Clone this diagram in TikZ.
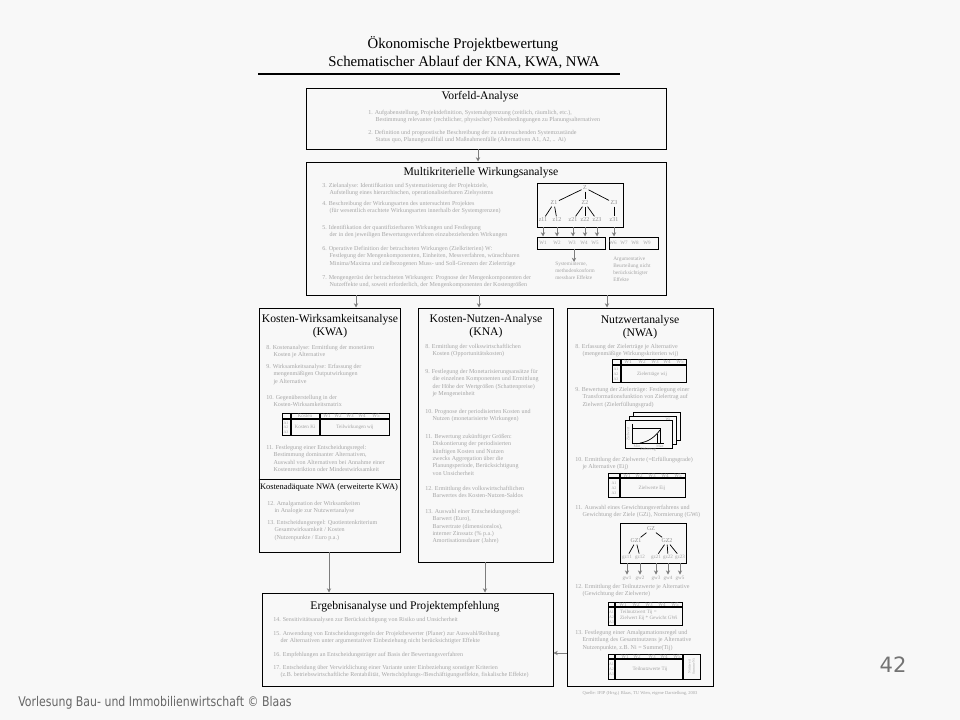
\documentclass[tikz,border=0pt]{standalone}
\usepackage{fontspec}
\setmainfont{Liberation Serif}
\newfontfamily\slidefont{DejaVu Sans}
\usepackage{graphicx}
\usetikzlibrary{arrows.meta,positioning,fit}
\definecolor{slidebg}{RGB}{248,248,248}
\definecolor{faint}{RGB}{165,165,165}
\definecolor{arrgray}{RGB}{125,125,125}
\newcommand\ind{\hspace*{1.2em}}

\tikzset{
  box/.style={draw=black,line width=0.7pt,inner sep=0pt},
  hd/.style={font=\fontsize{8.3}{9.6}\selectfont,align=center,inner sep=0pt},
  txt/.style={font=\fontsize{4.3}{5.2}\selectfont,text=faint,align=left,anchor=north west,inner sep=0pt},
  tiny/.style={font=\fontsize{3.6}{4.3}\selectfont,text=faint,inner sep=0.6pt},
  knot/.style={font=\fontsize{4.2}{5}\selectfont,text=black!45,inner sep=1pt},
  arr/.style={draw=arrgray,line width=0.6pt,-{Stealth[length=3pt,width=3pt]}},
  tl/.style={line width=0.5pt},
  tk/.style={line width=0.9pt}
}

\begin{document}
\begin{tikzpicture}[x=0.025cm,y=-0.025cm]
\fill[slidebg] (0,0) rectangle (960,720);
\useasboundingbox (0,0) rectangle (960,720);

\node[font=\fontsize{10.5}{12}\selectfont] (title1) at (463,44) {Ökonomische Projektbewertung};
\node[font=\fontsize{10.5}{12}\selectfont] (title2) at (464,62) {Schematischer Ablauf der KNA, KWA, NWA};
\draw[line width=0.8pt] (258,74) -- (620,74);

% Vorfeld
\node[box,fit={(306,88) (666,149)}] (vorfeld) {};
\node[hd] (vorfeldhd) at (480,97) {Vorfeld-Analyse};
\node[txt] (v1) at (368,110) {1. Aufgabenstellung, Projektdefinition, Systemabgrenzung (zeitlich, räumlich, etc.),\\\ind Bestimmung relevanter (rechtlicher, physischer) Nebenbedingungen zu Planungsalternativen};
\node[txt] (v2) at (368,130) {2. Definition und prognostische Beschreibung der zu untersuchenden Systemzustände\\\ind Status quo, Planungsnullfall und Maßnahmenfälle (Alternativen A1, A2, .. Ai)};

% Multikriterielle Wirkungsanalyse
\node[box,fit={(306,162) (666,295)}] (multi) {};
\node[hd] (multihd) at (481,173) {Multikriterielle Wirkungsanalyse};
\node[txt] (m3) at (322,183) {3. Zielanalyse: Identifikation und Systematisierung der Projektziele,\\\ind Aufstellung eines hierarchischen, operationalisierbaren Zielsystems};
\node[txt] (m4) at (322,201) {4. Beschreibung der Wirkungsarten des untersuchten Projektes\\\ind (für wesentlich erachtete Wirkungsarten innerhalb der Systemgrenzen)};
\node[txt] (m5) at (322,225) {5. Identifikation der quantifizierbaren Wirkungen und Festlegung\\\ind der in den jeweiligen Bewertungsverfahren einzubeziehenden Wirkungen};
\node[txt] (m6) at (322,246) {6. Operative Definition der betrachteten Wirkungen (Zielkriterien) W:\\\ind Festlegung der Mengenkomponenten, Einheiten, Messverfahren, wünschbaren\\\ind Minima/Maxima und zielbezogenen Muss- und Soll-Grenzen der Zielerträge};
\node[txt] (m7) at (322,275) {7. Mengengerüst der betrachteten Wirkungen: Prognose der Mengenkomponenten der\\\ind Nutzeffekte und, soweit erforderlich, der Mengenkomponenten der Kostengrößen};

\node[box,fit={(537,183) (623,227)}] (ztree) {};
\node[knot] (z) at (585,188) {Z};
\foreach \n/\x in {Z1/554,Z2/585,Z3/614} \node[knot] (\n) at (\x,203) {\n};
\foreach \n/\x in {z11/543,z12/557,z21/573,z22/585,z23/597,z31/614} \node[knot] (\n) at (\x,220) {\n};
\foreach \a/\b in {z/Z1,z/Z2,z/Z3,Z1/z11,Z1/z12,Z2/z21,Z2/z22,Z2/z23,Z3/z31} \draw[tl] (\a) -- (\b);
\node[box,fit={(537,237) (605,249)}] (wa) {};
\node[box,fit={(609,237) (658,249)}] (wb) {};
\foreach \n/\x in {W1/543,W2/557,W3/572,W4/584,W5/595,W6/613,W7/624,W8/635,W9/647} \node[tiny] (\n) at (\x,243) {\n};
\foreach \n in {z11,z12,z21,z22,z23} \draw[arr] (\n |- ztree.south) -- (\n |- wa.north);
\draw[arr] (z31 |- ztree.south) -- (z31 |- wb.north);
\node[txt,font=\fontsize{3.8}{5}\selectfont] (intern) at (555,262) {Systeminterne,\\methodenkonform\\messbare Effekte};
\coordinate (w3x) at (574,0);
\draw[arr] (wa.south -| w3x) -- (intern.north -| w3x);
\node[txt,font=\fontsize{3.8}{5}\selectfont] (argum) at (613,257) {Argumentative\\Beurteilung nicht\\berücksichtigter\\Effekte};

% KWA
\node[box,fit={(259,308) (400,552)}] (kwa) {};
\node[hd] (kwahd) at (330,326) {Kosten-Wirksamkeitsanalyse\\(KWA)};
\node[txt] (k8) at (266,345) {8. Kostenanalyse: Ermittlung der monetären\\\ind Kosten je Alternative};
\node[txt] (k9) at (266,364) {9. Wirksamkeitsanalyse: Erfassung der\\\ind mengenmäßigen Outputwirkungen\\\ind je Alternative};
\node[txt] (k10) at (266,395) {10. Gegenüberstellung in der\\\ind Kosten-Wirksamkeitsmatrix};
\draw[tl] (282,413) rectangle (389,435);
\draw[tk] (282,419) -- (389,419);
\draw[tk] (291,413) -- (291,435);
\draw[tk] (320,413) -- (320,435);
\node[tiny] (kkost) at (305,416) {Kosten};
\foreach \n/\x in {W1/327,W2/338,W3/350,W4/362,W5/376} \node[tiny] at (\x,416) {\n};
\foreach \n/\y in {A1/423,A2/427.5,A3/432} \node[tiny,font=\fontsize{2.8}{3}\selectfont] at (286,\y) {\n};
\node[tiny] (kki) at (305,427) {Kosten Ki};
\node[tiny] (kwij) at (355,427) {Teilwirkungen wij};
\node[txt] (k11) at (266,445) {11. Festlegung einer Entscheidungsregel:\\\ind Bestimmung dominanter Alternativen,\\\ind Auswahl von Alternativen bei Annahme einer\\\ind Kostenrestriktion oder Mindestwirksamkeit};
\draw[line width=0.7pt] (kwa.west |- 0,479) -- (kwa.east |- 0,479);
\node[font=\fontsize{6}{7}\selectfont,inner sep=0pt] (kwanwa) at (329,487) {Kostenadäquate NWA (erweiterte KWA)};
\node[txt] (k12) at (267,501) {12. Amalgamation der Wirksamkeiten\\\ind in Analogie zur Nutzwertanalyse};
\node[txt] (k13) at (267,520) {13. Entscheidungsregel: Quotientenkriterium\\\ind Gesamtwirksamkeit / Kosten\\\ind (Nutzenpunkte / Euro p.a.)};

% KNA
\node[box,fit={(418,308) (553,562)}] (kna) {};
\node[hd] (knahd) at (486,326) {Kosten-Nutzen-Analyse\\(KNA)};
\node[txt] (n8) at (425,344) {8. Ermittlung der volkswirtschaftlichen\\\ind Kosten (Opportunitätskosten)};
\node[txt] (n9) at (425,369) {9. Festlegung der Monetarisierungsansätze für\\\ind die einzelnen Komponenten und Ermittlung\\\ind der Höhe der Wertgrößen (Schattenpreise)\\\ind je Mengeneinheit};
\node[txt] (n10) at (425,409) {10. Prognose der periodisierten Kosten und\\\ind Nutzen (monetarisierte Wirkungen)};
\node[txt] (n11) at (425,434) {11. Bewertung zukünftiger Größen:\\\ind Diskontierung der periodisierten\\\ind künftigen Kosten und Nutzen\\\ind zwecks Aggregation über die\\\ind Planungsperiode, Berücksichtigung\\\ind von Unsicherheit};
\node[txt] (n12) at (425,486) {12. Ermittlung des volkswirtschaftlichen\\\ind Barwertes des Kosten-Nutzen-Saldos};
\node[txt] (n13) at (425,509) {13. Auswahl einer Entscheidungsregel:\\\ind Barwert (Euro),\\\ind Barwertrate (dimensionslos),\\\ind interner Zinssatz (\% p.a.)\\\ind Amortisationsdauer (Jahre)};

% NWA
\node[box,fit={(567,308) (713,686)}] (nwa) {};
\node[hd] (nwahd) at (640,327) {Nutzwertanalyse\\(NWA)};
\node[txt] (w8) at (575,344) {8. Erfassung der Zielerträge je Alternative\\\ind (mengenmäßige Wirkungskriterien wij)};
\draw[tl] (612,359) rectangle (686,382);
\draw[tk] (612,365) -- (686,365);
\draw[tk] (621,359) -- (621,382);
\foreach \n/\x in {W1/628,W2/642,W3/655,W4/667,W5/680} \node[tiny] at (\x,362) {\n};
\foreach \n/\y in {A1/369,A2/374,A3/379} \node[tiny,font=\fontsize{2.8}{3}\selectfont] at (616,\y) {\n};
\node[tiny] (wwij) at (652,374) {Zielerträge wij};
\node[txt] (w9) at (575,387) {9. Bewertung der Zielerträge: Festlegung einer\\\ind Transformationsfunktion von Zielertrag auf\\\ind Zielwert (Zielerfüllungsgrad)};
\foreach \d in {8,4,0} \filldraw[fill=slidebg,draw=black,line width=0.5pt] (625+\d,420-\d) rectangle (672+\d,448-\d);
\draw[tl] (632,424) -- (632,443) -- (664,443);
\draw[tl] (632,428) -- (660,428) -- (660,443);
\draw[tl] (640,443) .. controls (648,442) and (655,437) .. (660,430);
\draw[tl] (657,434) -- (657,443);
\node[tiny,rotate=90,font=\fontsize{2.8}{3}\selectfont] (zw) at (628,434) {Zielwert};
\node[tiny,font=\fontsize{2.8}{3}\selectfont] (zmin) at (637,446) {Min};
\node[tiny,font=\fontsize{2.8}{3}\selectfont] (zmax) at (660,446) {Max};
\node[tiny,font=\fontsize{2.8}{3}\selectfont] (zert) at (648,450) {Zielertrag};
\node[tiny,font=\fontsize{2.8}{3}\selectfont] (zwi) at (668,419) {Wi};
\node[txt] (w10) at (575,457) {10. Ermittlung der Zielwerte (=Erfüllungsgrade)\\\ind je Alternative (Eij)};
\draw[tl] (608,473) rectangle (685,497);
\draw[tk] (608,478) -- (685,478);
\draw[tk] (620,473) -- (620,497);
\foreach \n/\x in {W1/627,W2/639,W3/652,W4/665,W5/678} \node[tiny] at (\x,475.5) {\n};
\foreach \n/\y in {A1/483,A2/488,A3/493} \node[tiny,font=\fontsize{2.8}{3}\selectfont] at (614,\y) {\n};
\node[tiny] (weij) at (652,488) {Zielwerte Eij};
\node[txt] (w11) at (575,505) {11. Auswahl eines Gewichtungsverfahrens und\\\ind Gewichtung der Ziele (GZi), Normierung (GWi)};
\node[box,fit={(620,523) (686,563)}] (gtree) {};
\node[knot] (gz) at (651,529) {GZ};
\node[knot] (gz1) at (636,541) {GZ1};
\node[knot] (gz2) at (667,541) {GZ2};
\foreach \n/\x in {gz11/627,gz12/640,gz21/656,gz22/668,gz23/680} \node[tiny] (\n) at (\x,557) {\n};
\foreach \a/\b in {gz/gz1,gz/gz2,gz1/gz11,gz1/gz12,gz2/gz21,gz2/gz22,gz2/gz23} \draw[tl] (\a) -- (\b);
\foreach \n/\g/\x in {gz11/gw1/627,gz12/gw2/640,gz21/gw3/656,gz22/gw4/668,gz23/gw5/680} {
  \node[tiny] (\g) at (\x,578) {\g};
  \draw[arr] (\n |- gtree.south) -- (\g);
}
\node[txt] (w12) at (575,584) {12. Ermittlung der Teilnutzwerte je Alternative\\\ind (Gewichtung der Zielwerte)};
\draw[tl] (608,602) rectangle (682,625);
\draw[tk] (608,607) -- (682,607);
\draw[tk] (615,602) -- (615,625);
\foreach \n/\x in {W1/623,W2/636,W3/649,W4/662,W5/675} \node[tiny] at (\x,604.5) {\n};
\foreach \n/\y in {A1/612,A2/617,A3/622} \node[tiny,font=\fontsize{2.8}{3}\selectfont] at (611.5,\y) {\n};
\node[tiny,anchor=north west,align=left] (wtij) at (619,609) {Teilnutzwert Tij =\\Zielwert Eij * Gewicht GWi};
\node[txt] (w13) at (575,630) {13. Festlegung einer Amalgamationsregel und\\\ind Ermittlung des Gesamtnutzens je Alternative\\\ind Nutzenpunkte, z.B. Ni = Summe(Tij)};
\draw[tl] (608,654) rectangle (700,679);
\draw[tk] (608,659) -- (683,659);
\draw[tk] (615,654) -- (615,679);
\draw[tk] (683,654) -- (683,679);
\foreach \n/\x in {W1/625,W2/637,W3/652,W4/664,W5/677} \node[tiny] at (\x,656.5) {\n};
\foreach \n/\y in {A1/664,A2/669,A3/674} \node[tiny,font=\fontsize{2.8}{3}\selectfont] at (611.5,\y) {\n};
\node[tiny] (wteil) at (650,669) {Teilnutzwerte Tij};
\node[tiny,rotate=90,align=center,font=\fontsize{2.6}{3}\selectfont] (wni) at (691.5,666.5) {Nutzwert\\Summe Ni};
\node[tiny,font=\fontsize{3.2}{4}\selectfont] (quelle) at (640,693) {Quelle: IFIP (Hrsg.) Blaas, TU Wien, eigene Darstellung, 2003};

% Ergebnis
\node[box,fit={(262,593) (553,686)}] (erg) {};
\node[hd] (erghd) at (405,607) {Ergebnisanalyse und Projektempfehlung};
\node[txt] (e14) at (273,617) {14. Sensitivitätsanalysen zur Berücksichtigung von Risiko und Unsicherheit};
\node[txt] (e15) at (273,631) {15. Anwendung von Entscheidungsregeln der Projektbewerter (Planer) zur Auswahl/Reihung\\\ind der Alternativen unter argumentativer Einbeziehung nicht berücksichtigter Effekte};
\node[txt] (e16) at (273,652) {16. Empfehlungen an Entscheidungsträger auf Basis der Bewertungsverfahren};
\node[txt] (e17) at (273,665) {17. Entscheidung über Verwirklichung einer Variante unter Einbeziehung sonstiger Kriterien\\\ind (z.B. betriebswirtschaftliche Rentabilität, Wertschöpfungs-/Beschäftigungseffekte, fiskalische Effekte)};

% connectors
\coordinate (c1) at (478,0);
\coordinate (c2) at (356,0);
\coordinate (c3) at (479,0);
\coordinate (c4) at (607,0);
\coordinate (c5) at (329,0);
\coordinate (c6) at (485,0);
\coordinate (c7) at (0,653);
\draw[arr] (vorfeld.south -| c1) -- (multi.north -| c1);
\draw[arr] (multi.south -| c2) -- (kwa.north -| c2);
\draw[arr] (multi.south -| c3) -- (kna.north -| c3);
\draw[arr] (multi.south -| c4) -- (nwa.north -| c4);
\draw[arr] (kwa.south -| c5) -- (erg.north -| c5);
\draw[arr] (kna.south -| c6) -- (erg.north -| c6);
\draw[arr] (nwa.west |- c7) -- (erg.east |- c7);

\node[font=\slidefont\fontsize{15}{15}\selectfont,text=black!55] (pagenum) at (893,665) {42};
\node[anchor=west,inner sep=0pt,text=black!60] (footer) at (18,703) {\scalebox{0.82}[1]{\slidefont\fontsize{9.5}{10}\selectfont Vorlesung Bau- und Immobilienwirtschaft © Blaas}};
\end{tikzpicture}
\end{document}
